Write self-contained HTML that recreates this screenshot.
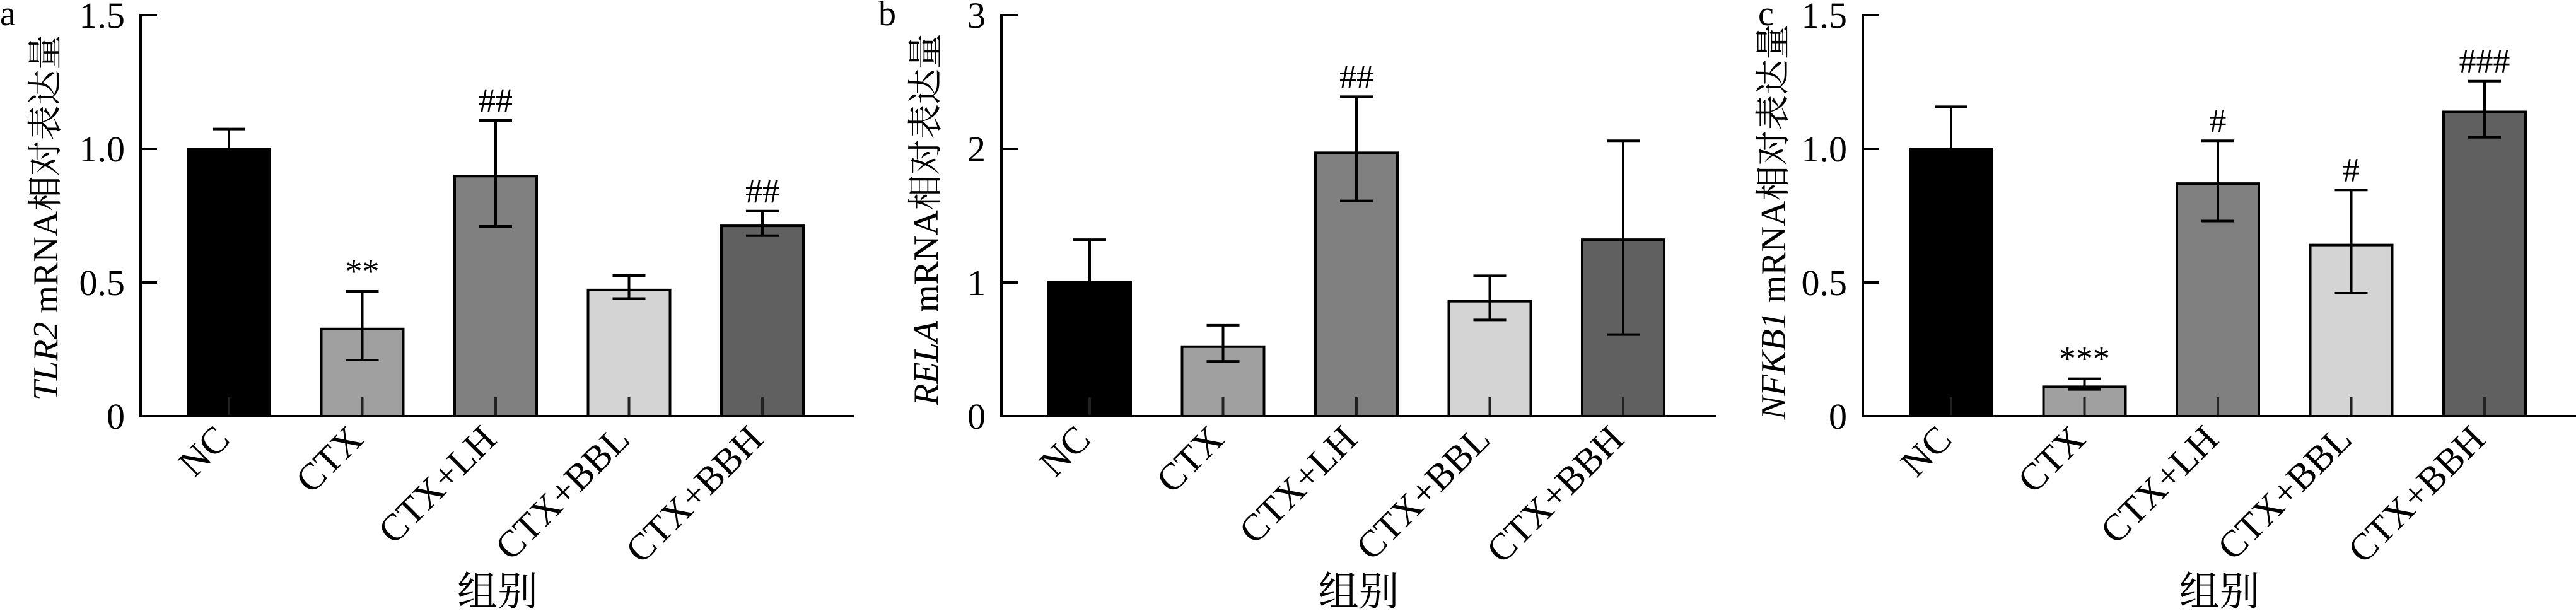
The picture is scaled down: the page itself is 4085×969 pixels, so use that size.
<!DOCTYPE html>
<html><head><meta charset="utf-8"><style>
html,body{margin:0;padding:0;background:#fff;}
svg{display:block;}
text{font-family:"Liberation Serif","Noto Serif CJK SC",serif;fill:#000;}
</style></head><body>
<svg id="chart" width="4085" height="969" viewBox="0 0 4085 969" xmlns="http://www.w3.org/2000/svg"></svg>
<script>
const categories = ["NC","CTX","CTX+LH","CTX+BBL","CTX+BBH"];
const colors = ["#000000","#a0a0a0","#808080","#d4d4d4","#606060"];
const tlr2Values = [1.0, 0.326, 0.898, 0.472, 0.712];
const tlr2Upper = [1.074, 0.467, 1.106, 0.526, 0.767];
const tlr2Lower = [0.93, 0.21, 0.71, 0.44, 0.675];
const tlr2Marks = ["", "**", "##", "", "##"];
const tlr2Ticks = [0, 0.5, 1.0, 1.5];
const tlr2TickLabels = ["0","0.5","1.0","1.5"];
const relaValues = [1.0, 0.52, 1.97, 0.86, 1.32];
const relaUpper = [1.32, 0.68, 2.39, 1.05, 2.06];
const relaLower = [0.68, 0.41, 1.61, 0.72, 0.61];
const relaMarks = ["", "", "##", "", ""];
const relaTicks = [0, 1, 2, 3];
const relaTickLabels = ["0","1","2","3"];
const nfkb1Values = [1.0, 0.11, 0.87, 0.64, 1.138];
const nfkb1Upper = [1.157, 0.14, 1.03, 0.846, 1.253];
const nfkb1Lower = [0.84, 0.1, 0.73, 0.46, 1.043];
const nfkb1Marks = ["", "***", "#", "#", "###"];
const nfkb1Ticks = [0, 0.5, 1.0, 1.5];
const nfkb1TickLabels = ["0","0.5","1.0","1.5"];

const svg = document.getElementById('chart');
const NS = "http://www.w3.org/2000/svg";
function mk(tag, attrs, parent){
  const e = document.createElementNS(NS, tag);
  for (const k in attrs) e.setAttribute(k, attrs[k]);
  (parent||svg).appendChild(e);
  return e;
}
const Y0 = 660, YTOP = 24;

function panel(key, letter, letterX, axisX, axisEnd, yMax, vals, up, lo, marks, ticks, tickLabels, gene, titleX, titleY){
  const g = mk('g', {});
  
  
  const y = v => Y0 - (v / yMax) * (Y0 - YTOP);
  const x = i => axisX + 140 + i * 211.5;
  const L = mk('text', {x: letterX, y: 40, 'font-size': 56}, g);
  L.textContent = letter;
  
  
  vals.forEach((v, i) => {
    const cx = x(i);
    const r = mk('rect', {x: cx - 65, y: y(v), width: 130, height: Y0 - y(v), fill: colors[i], stroke: '#000', 'stroke-width': 4}, g);
    
    
    const stub = mk('line', {x1: cx, x2: cx, y1: Y0, y2: Y0 - 30, stroke: '#222', 'stroke-width': 4}, g);
    
    
    const eg = mk('g', {stroke: '#000', 'stroke-width': 4}, g);
    
    
    mk('line', {x1: cx, x2: cx, y1: y(up[i]), y2: y(lo[i])}, eg);
    mk('line', {x1: cx - 26, x2: cx + 26, y1: y(up[i]), y2: y(up[i])}, eg);
    mk('line', {x1: cx - 26, x2: cx + 26, y1: y(lo[i]), y2: y(lo[i])}, eg);
    if (marks[i]) {
      const t = mk('text', {x: cx, y: y(up[i]) - 14, 'font-size': 54, 'text-anchor': 'middle'}, g);
      t.textContent = marks[i];
      
      
    }
    const xl = mk('text', {x: cx + 4, y: 700, 'font-size': 60, 'text-anchor': 'end', transform: `rotate(-45 ${cx + 4} 700)`}, g);
    xl.textContent = categories[i];
    
    
  });
  const ax = mk('g', {stroke: '#000', 'stroke-width': 4, fill: 'none'}, g);
  
  
  mk('line', {x1: axisX, x2: axisX, y1: YTOP - 2, y2: Y0 + 2}, ax);
  mk('line', {x1: axisX - 2, x2: axisEnd, y1: Y0, y2: Y0}, ax);
  ticks.forEach((tv, i) => {
    mk('line', {x1: axisX, x2: axisX + 26, y1: y(tv), y2: y(tv)}, ax);
    const t = mk('text', {x: axisX - 25, y: y(tv) + 20, 'font-size': 58, 'text-anchor': 'end'}, g);
    t.textContent = tickLabels[i];
    
    
  });
  const yt = mk('text', {x: titleX, y: titleY, 'font-size': 56, 'text-anchor': 'middle', transform: `rotate(-90 ${titleX} ${titleY})`, dy: 19}, g);
  yt.innerHTML = `<tspan font-style="italic">${gene}</tspan> mRNA<tspan font-family="Noto Serif CJK SC, serif">相对表达量</tspan>`;
  
  
  const xt = mk('text', {x: (axisX + axisEnd) / 2, y: 960, 'font-size': 64, 'text-anchor': 'middle', 'font-family': 'Noto Serif CJK SC, serif'}, g);
  xt.textContent = '组别';
  
  
}
panel('tlr2', 'a', 0, 223, 1355, 1.5, tlr2Values, tlr2Upper, tlr2Lower, tlr2Marks, tlr2Ticks, tlr2TickLabels, 'TLR2', 72, 345);
panel('rela', 'b', 1393, 1588, 2721, 3, relaValues, relaUpper, relaLower, relaMarks, relaTicks, relaTickLabels, 'RELA', 1468, 348);
panel('nfkb1', 'c', 2788, 2954, 4085, 1.5, nfkb1Values, nfkb1Upper, nfkb1Lower, nfkb1Marks, nfkb1Ticks, nfkb1TickLabels, 'NFKB1', 2812, 352);
</script>
</body></html>
